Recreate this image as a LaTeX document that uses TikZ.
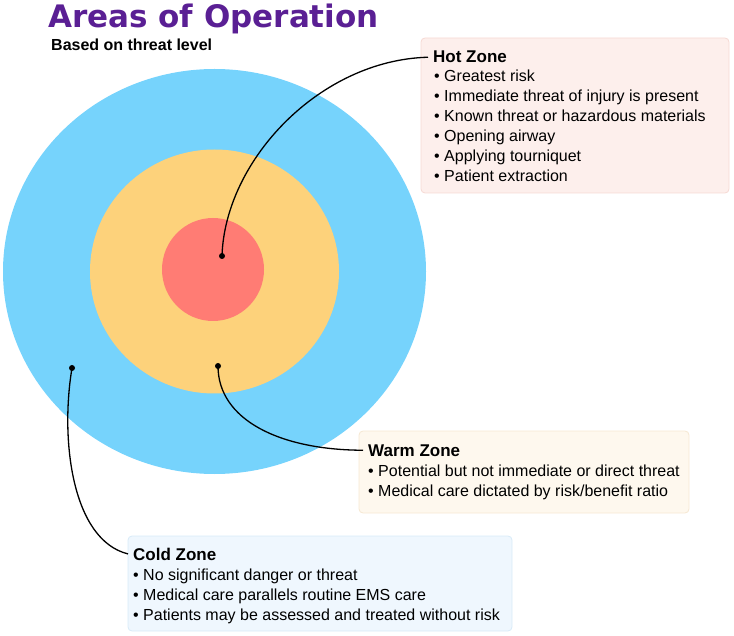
\documentclass[tikz,border=0pt]{standalone}
\usepackage{fontspec}
\setmainfont{Liberation Sans}
\newfontfamily\headfont{DejaVu Sans}

\definecolor{coldfill}{HTML}{76D3FC}
\definecolor{warmfill}{HTML}{FDD27B}
\definecolor{hotfill}{HTML}{FF7C74}
\definecolor{headpurple}{HTML}{5A1F94}
\definecolor{hotbg}{HTML}{FDEFEC}
\definecolor{hotrim}{HTML}{F6D9D4}
\definecolor{warmbg}{HTML}{FEF8EE}
\definecolor{warmrim}{HTML}{F6E8D2}
\definecolor{coldbg}{HTML}{EFF7FE}
\definecolor{coldrim}{HTML}{D8EBF8}

\tikzset{
  zonebox/.style={rounded corners=4pt, line width=0.8pt},
  zonetitle/.style={anchor=base west, inner xsep=5pt, inner ysep=0pt,
    font=\bfseries\fontsize{17}{17}\selectfont},
  zoneitem/.style={anchor=base west, inner sep=0pt,
    font=\fontsize{16}{16}\selectfont},
  pin/.style={circle, fill=black, inner sep=0pt, minimum size=6pt},
  leader/.style={line width=1.3pt},
}

\begin{document}
\begin{tikzpicture}[x=1pt, y=-1pt]
\useasboundingbox (0,0) rectangle (734,636);

% heading
\node[anchor=base west, inner sep=0pt, text=headpurple,
      font=\headfont\bfseries\fontsize{31}{31}\selectfont] (heading) at (48,28) {Areas of Operation};
\node[anchor=base west, inner sep=0pt, font=\bfseries\fontsize{16}{16}\selectfont] (subheading) at (51,51) {Based on threat level};

% concentric zones
\fill[coldfill] (214.5,271.5) ellipse [x radius=211.5pt, y radius=202.5pt];
\fill[warmfill] (214.5,271.5) ellipse [x radius=124.5pt, y radius=122pt];
\fill[hotfill] (213,269.5) ellipse [x radius=51pt, y radius=51.5pt];

% label panels
\draw[zonebox, fill=hotbg, draw=hotrim] (421,38) rectangle (729,193);
\draw[zonebox, fill=warmbg, draw=warmrim] (359,431) rectangle (689,513);
\draw[zonebox, fill=coldbg, draw=coldrim] (128,536) rectangle (512,631);

% hot zone text
\node[zonetitle] (hottitle) at (428,63) {Hot Zone};
\foreach \t [count=\i] in {Greatest risk, Immediate threat of injury is present,
    Known threat or hazardous materials, Opening airway, Applying tourniquet,
    Patient extraction}
  \node[zoneitem] (hot-\i) at (434,62+20*\i) {• \t};

% warm zone text
\node[zonetitle] (warmtitle) at (363,456) {Warm Zone};
\foreach \t [count=\i] in {Potential but not immediate or direct threat,
    Medical care dictated by risk/benefit ratio}
  \node[zoneitem] (warm-\i) at (368,456+20*\i) {• \t};

% cold zone text
\node[zonetitle] (coldtitle) at (128,560) {Cold Zone};
\foreach \t [count=\i] in {No significant danger or threat,
    Medical care parallels routine EMS care,
    Patients may be assessed and treated without risk}
  \node[zoneitem] (cold-\i) at (133,560+20*\i) {• \t};

% pins and leaders
\node[pin] (hotpin) at (222,256) {};
\node[pin] (warmpin) at (218,366) {};
\node[pin] (coldpin) at (72,368) {};

\draw[leader] (hotpin.center) .. controls (225,160) and (320,60) .. (hottitle.west);
\draw[leader] (warmpin.center) .. controls (218,420) and (280,450) .. (warmtitle.west);
\draw[leader] (coldpin.center) .. controls (60,440) and (72,540) .. (coldtitle.west);
\end{tikzpicture}
\end{document}
